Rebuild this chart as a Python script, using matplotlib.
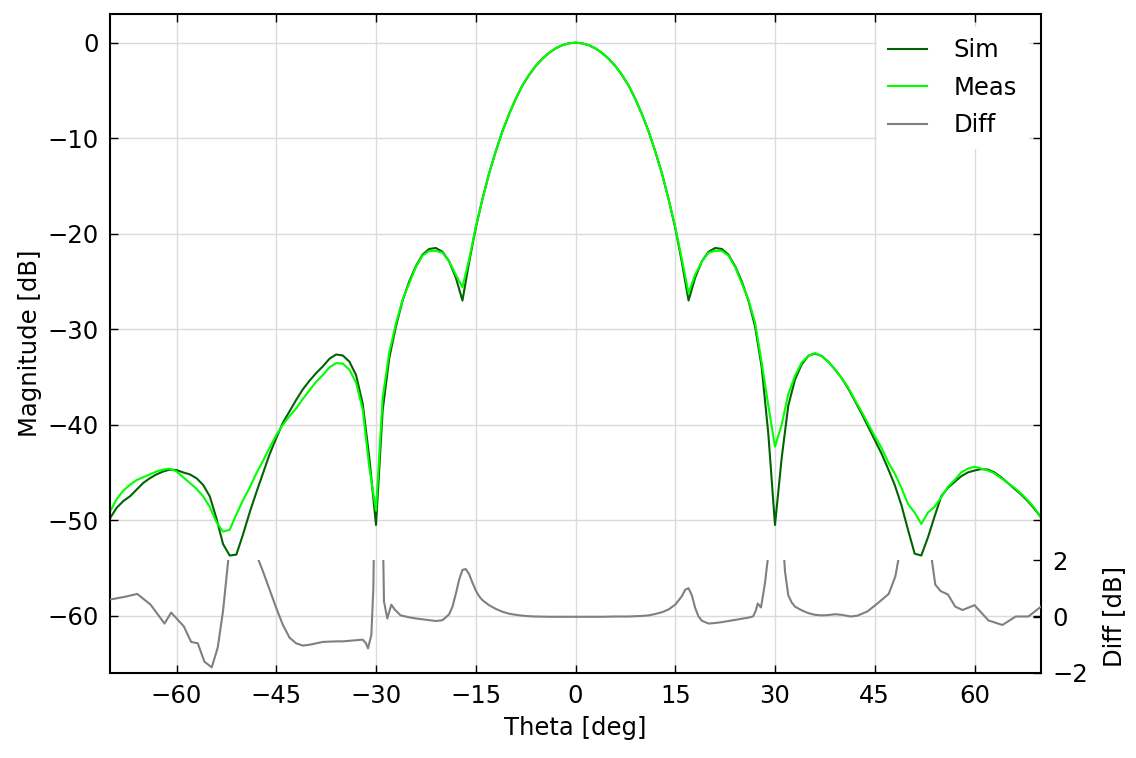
import matplotlib
matplotlib.use("Agg")
import matplotlib.pyplot as plt
import numpy as np

# angles for the simulated / measured patterns
theta = list(range(-70, 71))

sim = [
    -49.8, -48.7, -48.0, -47.5, -46.8, -46.1, -45.6, -45.2, -44.9, -44.7,   # -70..-61
    -44.75, -45.0, -45.2, -45.6, -46.3, -47.5, -49.8, -52.5, -53.7, -53.6,  # -60..-51
    -51.5, -49.2, -47.1, -45.1, -43.1, -41.4, -39.8, -38.6, -37.4, -36.3,   # -50..-41
    -35.4, -34.6, -33.9, -33.1, -32.65, -32.75, -33.4, -34.8, -37.8, -43.5, # -40..-31
    -50.5, -38.5, -33.0, -29.7, -27.0, -25.0, -23.4, -22.2, -21.6, -21.5,   # -30..-21
    -21.9, -22.9, -24.6, -27.0, -23.0, -19.4, -16.4, -13.7, -11.4, -9.3,    # -20..-11
    -7.5, -5.9, -4.5, -3.4, -2.45, -1.7, -1.08, -0.6, -0.27, -0.07,         # -10..-1
    0.0,                                                                    # 0
    -0.07, -0.27, -0.6, -1.08, -1.7, -2.45, -3.4, -4.5, -5.9, -7.5,         # 1..10
    -9.3, -11.4, -13.7, -16.4, -19.4, -23.0, -27.0, -24.6, -22.9, -21.9,    # 11..20
    -21.5, -21.6, -22.2, -23.4, -25.0, -27.0, -29.7, -34.0, -41.0, -50.5,   # 21..30
    -43.5, -38.0, -35.3, -33.7, -32.8, -32.55, -32.8, -33.4, -34.2, -35.1,  # 31..40
    -36.2, -37.5, -38.8, -40.2, -41.6, -43.0, -44.6, -46.3, -48.4, -51.0,   # 41..50
    -53.5, -53.7, -51.8, -49.6, -47.5, -46.6, -46.0, -45.4, -45.0, -44.8,   # 51..60
    -44.65, -44.7, -45.0, -45.5, -46.1, -46.7, -47.3, -48.0, -48.8, -49.7,  # 61..70
]

meas = [
    -49.1, -47.8, -46.9, -46.3, -45.8, -45.5, -45.2, -44.9, -44.7, -44.6,   # -70..-61
    -44.9, -45.5, -46.1, -46.7, -47.5, -48.6, -50.2, -51.2, -51.0, -49.4,   # -60..-51
    -47.9, -46.6, -45.1, -43.8, -42.4, -41.1, -40.0, -39.1, -38.3, -37.3,   # -50..-41
    -36.4, -35.5, -34.8, -34.0, -33.55, -33.6, -34.25, -35.6, -38.4, -44.5, # -40..-31
    -49.0, -37.2, -32.4, -29.4, -26.9, -25.2, -23.5, -22.3, -21.8, -21.8,   # -30..-21
    -22.0, -22.9, -24.3, -25.6, -22.7, -19.3, -16.4, -13.7, -11.4, -9.3,    # -20..-11
    -7.5, -5.9, -4.5, -3.4, -2.45, -1.7, -1.08, -0.6, -0.27, -0.07,         # -10..-1
    0.0,                                                                    # 0
    -0.07, -0.27, -0.6, -1.08, -1.7, -2.45, -3.4, -4.5, -5.9, -7.5,         # 1..10
    -9.3, -11.4, -13.7, -16.4, -19.3, -22.7, -26.2, -24.3, -22.9, -22.0,    # 11..20
    -21.8, -21.8, -22.3, -23.5, -25.2, -26.9, -29.3, -33.5, -38.0, -42.3,   # 21..30
    -40.0, -36.8, -34.9, -33.5, -32.8, -32.5, -32.8, -33.4, -34.2, -35.1,   # 31..40
    -36.1, -37.4, -38.6, -39.9, -41.2, -42.4, -43.9, -45.1, -46.6, -48.3,   # 41..50
    -49.2, -50.4, -49.2, -48.6, -47.6, -46.5, -45.8, -45.0, -44.6, -44.4,   # 51..60
    -44.6, -44.8, -45.1, -45.6, -46.1, -46.6, -47.2, -47.9, -48.7, -49.7,   # 61..70
]

# difference curve (own sampling)
diff_theta = [
    -70, -67.7, -65.9, -63.9, -61.8, -60.8, -58.9, -57.8, -56.8, -55.8,
    -54.7, -53.8, -53, -52, -51, -50, -49, -48, -47, -46,
    -45, -44, -43, -42, -41, -40, -39, -38, -37, -36,
    -35, -34, -33, -32, -31.5, -31.2, -30.7, -30.4, -30, -29.5,
    -29, -28.8, -28.3, -27.7, -27.2, -26.3, -25, -24, -23, -22,
    -21, -20, -19.5, -19, -18.5, -18, -17.5, -17, -16.5, -16,
    -15.5, -15, -14.5, -14, -13, -12, -11, -10, -9, -8,
    -7, -6, -4, -2, 0, 2, 4, 6, 8, 10,
    11, 12, 13, 14, 15, 16, 16.5, 17, 17.5, 18,
    18.5, 19, 20, 21, 22, 23, 24, 25, 26, 26.7,
    27.1, 27.4, 27.9, 28.5, 29, 29.5, 30, 30.5, 31, 31.5,
    32, 32.5, 33, 34, 35, 36, 37, 38, 39, 40,
    41.4, 42.4, 43.9, 45.4, 47.1, 48.1, 49, 50, 51, 52,
    53, 54.1, 54.9, 56, 57.1, 58.2, 60, 62.1, 64.2, 66.2,
    68.1, 70,
]
diff = [
    0.60, 0.70, 0.80, 0.42, -0.25, 0.14, -0.35, -0.90, -0.95, -1.60,
    -1.80, -1.10, 0.20, 2.50, 5.0, 5.0, 4.0, 2.2, 1.6, 0.95,
    0.30, -0.30, -0.75, -0.95, -1.03, -1.00, -0.95, -0.90, -0.89, -0.88,
    -0.88, -0.86, -0.84, -0.82, -0.95, -1.13, -0.65, 1.0, 8.0, 8.0,
    3.5, 0.53, -0.07, 0.42, 0.25, 0.04, -0.03, -0.07, -0.10, -0.13,
    -0.16, -0.13, -0.03, 0.08, 0.35, 0.80, 1.30, 1.65, 1.68, 1.50,
    1.20, 0.92, 0.72, 0.58, 0.40, 0.27, 0.17, 0.10, 0.06, 0.03,
    0.01, 0.0, -0.01, -0.01, -0.01, -0.01, -0.01, 0.0, 0.0, 0.02,
    0.04, 0.09, 0.15, 0.25, 0.42, 0.72, 0.95, 1.0, 0.75, 0.30,
    0.0, -0.15, -0.25, -0.23, -0.20, -0.16, -0.12, -0.08, -0.04, 0.0,
    0.20, 0.46, 0.32, 1.2, 2.2, 6.0, 9.0, 7.0, 3.5, 1.6,
    0.75, 0.50, 0.35, 0.22, 0.12, 0.06, 0.04, 0.05, 0.08, 0.06,
    0.0, 0.03, 0.18, 0.46, 0.80, 1.42, 2.6, 5.0, 6.0, 6.0,
    3.0, 1.13, 0.90, 0.78, 0.35, 0.23, 0.40, -0.14, -0.30, 0.0,
    0.0, 0.35,
]

xticks = [-60, -45, -30, -15, 0, 15, 30, 45, 60]
yticks = [0, -10, -20, -30, -40, -50, -60]
diff_ticks = [-2, 0, 2]

FS = 17.5
plt.rcParams['font.family'] = 'DejaVu Sans'
plt.rcParams['font.size'] = FS

fig = plt.figure(figsize=(11.36, 7.58), dpi=100)
ax = fig.add_axes([110/1136, 85/758, 931/1136, 659/758])

l1, = ax.plot(theta, sim, color='darkgreen', lw=1.5, label='Sim')
l2, = ax.plot(theta, meas, color='lime', lw=1.5, label='Meas')

ax.set_xlim(-70, 70)
ax.set_ylim(-66, 3)
ax.set_xticks(xticks)
ax.set_yticks(yticks)
ax.grid(True, color='0.86', lw=1)
ax.set_axisbelow(True)
ax.tick_params(direction='in', top=True, right=True, length=6, width=1, labelsize=FS, pad=8)
for s in ax.spines.values():
    s.set_linewidth(1.5)
ax.set_xlabel('Theta [deg]', fontsize=FS, labelpad=6)
ax.set_ylabel('Magnitude [dB]', fontsize=FS)

# diff axis in the lower strip
h = (673 - 560) / 659
ax2 = ax.inset_axes([0, 0, 1, h])
ax2.patch.set_visible(False)
for s in ax2.spines.values():
    s.set_visible(False)
l3, = ax2.plot(diff_theta, diff, color='gray', lw=1.5, label='Diff')
ax2.set_xlim(-70, 70)
ax2.set_ylim(-2, 2)
ax2.set_xticks([])
ax2.set_yticks(diff_ticks)
ax2.yaxis.tick_right()
ax2.yaxis.set_label_position('right')
ax2.tick_params(direction='in', length=6, width=1, labelsize=FS, pad=8)
ax2.set_ylabel('Diff [dB]', fontsize=FS, labelpad=10)

leg = ax.legend(handles=[l1, l2, l3], loc='upper right', fontsize=FS,
                handlelength=1.6, handletextpad=1.07, labelspacing=0.55,
                borderaxespad=0.55, borderpad=0.45, fancybox=False)
leg.get_frame().set_edgecolor('white')
leg.get_frame().set_facecolor('white')
leg.get_frame().set_alpha(1)

fig.savefig('out.png', dpi=100)
